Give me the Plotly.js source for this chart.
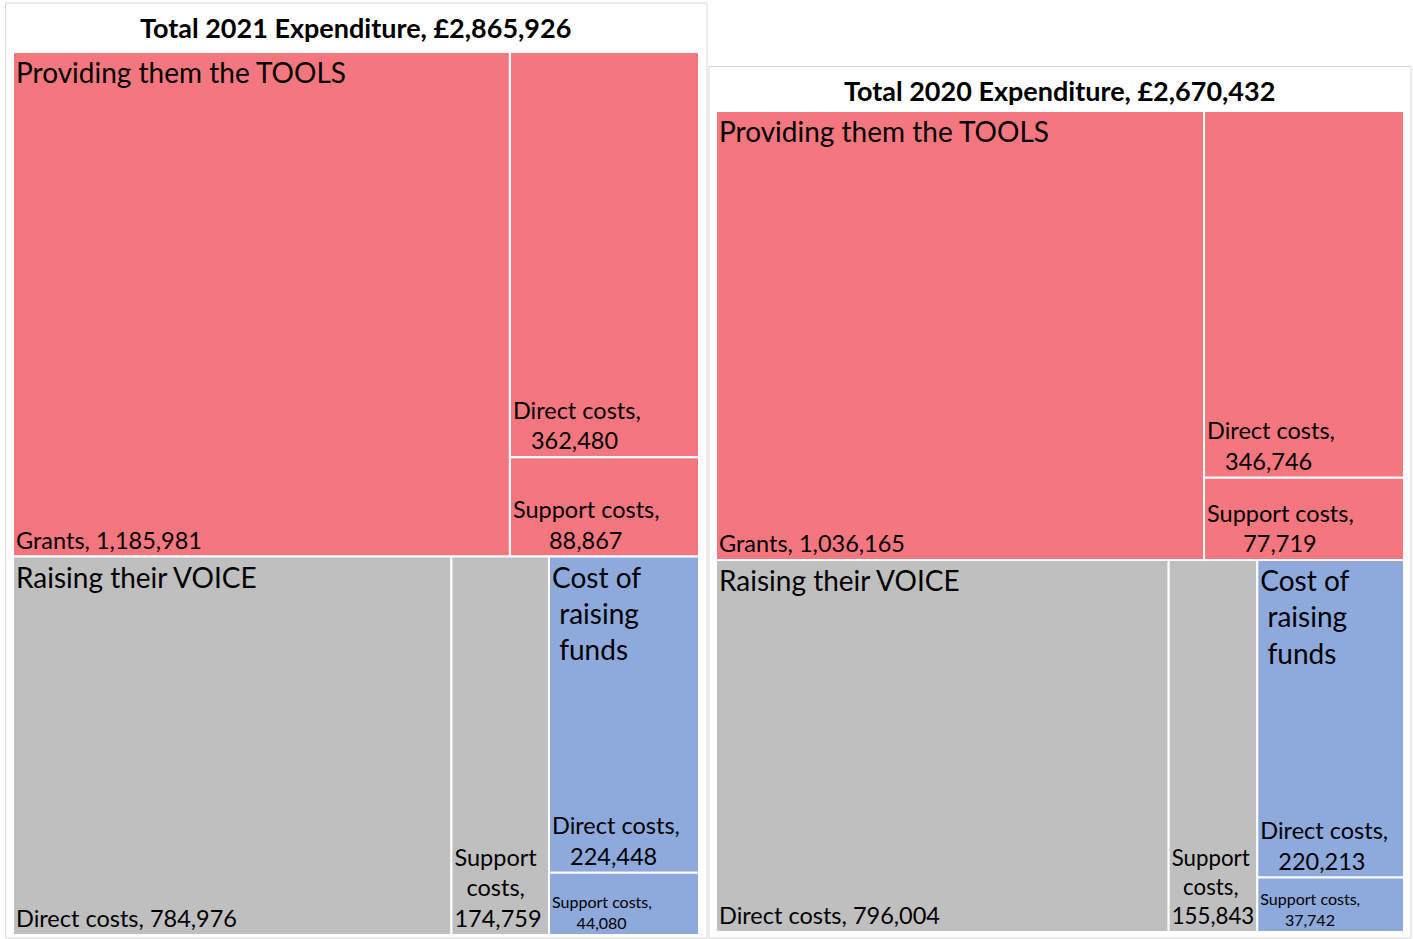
<!DOCTYPE html>
<html>
<head>
<meta charset="utf-8">
<script src="https://cdn.plot.ly/plotly-3.0.1.min.js"></script>
<style>
  html, body { margin: 0; padding: 0; background: #fff; }
  #chart { width: 1413px; height: 939px; }
</style>
</head>
<body>
<div id="chart"></div>
<script>
// spending groups and their colours
const groups = ['Providing them the TOOLS', 'Raising their VOICE', 'Cost of raising funds'];
const groupColors = ['#F4777F', '#BFBFBF', '#8EA9DB'];

// cost lines, each belongs to a group (index into groups)
const itemGroup = [0, 0, 0, 1, 1, 2, 2];
const itemLabels = ['Grants', 'Direct costs', 'Support costs', 'Direct costs', 'Support costs', 'Direct costs', 'Support costs'];

const values2021 = [1185981, 362480, 88867, 784976, 174759, 224448, 44080];
const values2020 = [1036165, 346746, 77719, 796004, 155843, 220213, 37742];

const years = ['2021', '2020'];
const totals = ['£2,865,926', '£2,670,432'];

const FONT = 'Lato, "Open Sans", sans-serif';
const LEAF_SIZE = 23.5, SMALL_SIZE = 16, HEAD_SIZE = 28;

// excel centres the lines of a wrapped label, plotly left aligns them,
// so pad the shorter lines with no-break spaces
const ctx = document.createElement('canvas').getContext('2d');
function centerLines(lines, size) {
  ctx.font = size + 'px Lato';
  const w = lines.map(l => ctx.measureText(l).width);
  const max = Math.max(...w);
  const sp = ctx.measureText('\u00A0').width;
  return lines.map((l, j) => '\u00A0'.repeat(Math.round((max - w[j]) / 2 / sp)) + l).join('<br>');
}

function leafSize(i) {
  return i === 6 ? SMALL_SIZE : LEAF_SIZE;
}

function leafText(i, v) {
  const num = v.toLocaleString('en-GB');
  if (i === 0 || i === 3) return itemLabels[i] + ', ' + num; // wide cells
  if (i === 4) return centerLines(['Support', 'costs,', num], leafSize(i)); // narrow column
  return centerLines([itemLabels[i] + ',', num], leafSize(i));
}

function buildTraces(values, domain) {
  const ids = [], labels = [], parents = [], vals = [], colors = [], text = [], sizes = [];
  groups.forEach((g, k) => {
    ids.push('g' + k);
    labels.push(g);
    parents.push('');
    vals.push(0);
    colors.push(groupColors[k]);
    text.push('');
    sizes.push(LEAF_SIZE);
  });
  values.forEach((v, i) => {
    ids.push('i' + i);
    labels.push(itemLabels[i]);
    parents.push('g' + itemGroup[i]);
    vals.push(v);
    colors.push(groupColors[itemGroup[i]]);
    text.push(leafText(i, v));
    sizes.push(leafSize(i));
  });

  const base = {
    type: 'treemap',
    ids: ids, labels: labels, parents: parents, values: vals,
    branchvalues: 'remainder',
    sort: true,
    text: text,
    textinfo: 'text',
    textposition: 'bottom left',
    textfont: {family: FONT, size: sizes, color: '#000000'},
    marker: {colors: colors, depthfade: false, line: {color: '#ffffff', width: 2}, pad: {t: 0, l: 0, r: 0, b: 0}},
    tiling: {packing: 'squarify', pad: 0},
    leaf: {opacity: 1},
    pathbar: {visible: false},
    hoverinfo: 'skip',
    domain: domain
  };

  // group headers: same tiling, transparent, label in the top left
  const sums = groups.map((g, k) => values.reduce((s, v, i) => itemGroup[i] === k ? s + v : s, 0));
  const header = {
    type: 'treemap',
    ids: groups.map((g, k) => 'h' + k),
    labels: groups,
    parents: groups.map(() => ''),
    values: sums,
    sort: true,
    text: groups.map((g, k) => k === 2 ? centerLines(['Cost of', 'raising', 'funds'], HEAD_SIZE) : g),
    textinfo: 'text',
    textposition: 'top left',
    textfont: {family: FONT, size: HEAD_SIZE, color: '#000000'},
    marker: {colors: groups.map(() => 'rgba(0,0,0,0)'), depthfade: false, line: {width: 0}, pad: {t: 0, l: 0, r: 0, b: 0}},
    tiling: {packing: 'squarify', pad: 0},
    leaf: {opacity: 1},
    pathbar: {visible: false},
    hoverinfo: 'skip',
    domain: domain
  };
  return [base, header];
}

const W = 1413, H = 939;
const px = (x) => x / W;
const py = (y) => 1 - y / H;

const data = [].concat(
  buildTraces(values2021, {x: [px(13), px(699)], y: [py(935), py(52)]}),
  buildTraces(values2020, {x: [px(716), px(1404)], y: [py(932), py(111)]})
);

const layout = {
  width: W,
  height: H,
  margin: {l: 0, r: 0, t: 0, b: 0},
  paper_bgcolor: '#ffffff',
  font: {family: FONT, color: '#000000'},
  showlegend: false,
  shapes: [
    {type: 'rect', xref: 'paper', yref: 'paper', x0: px(5.5), x1: px(707), y0: py(938), y1: py(3),
     line: {color: '#D9D9D9', width: 1}, layer: 'below'},
    {type: 'rect', xref: 'paper', yref: 'paper', x0: px(709), x1: px(1411), y0: py(938), y1: py(66.5),
     line: {color: '#D9D9D9', width: 1}, layer: 'below'}
  ],
  annotations: [
    {xref: 'paper', yref: 'paper', x: px(355), y: py(28), xanchor: 'center', yanchor: 'middle', showarrow: false,
     text: '<b>Total ' + years[0] + ' Expenditure, ' + totals[0] + '</b>', font: {family: FONT, size: 27, color: '#000000'}},
    {xref: 'paper', yref: 'paper', x: px(1059), y: py(90), xanchor: 'center', yanchor: 'middle', showarrow: false,
     text: '<b>Total ' + years[1] + ' Expenditure, ' + totals[1] + '</b>', font: {family: FONT, size: 27, color: '#000000'}}
  ]
};

Plotly.newPlot('chart', data, layout, {displayModeBar: false, staticPlot: true});
</script>
</body>
</html>
